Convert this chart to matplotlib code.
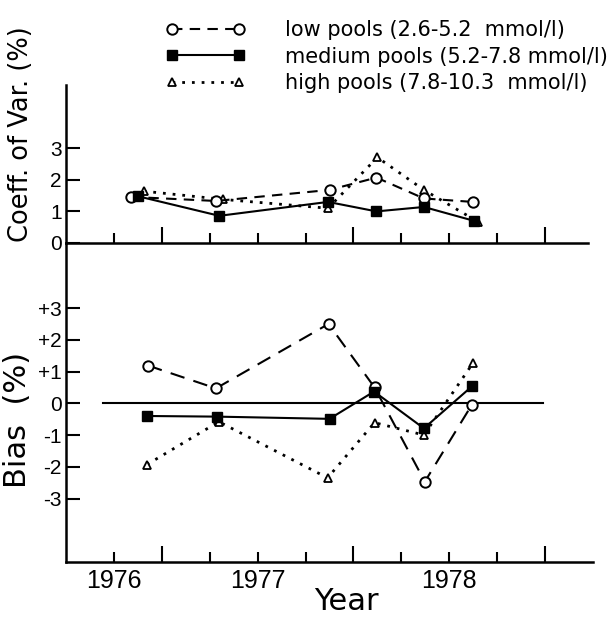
import matplotlib
matplotlib.use("Agg")
import matplotlib.pyplot as plt

# x positions are in quarter-year tick units (tick 0 .. 9 along the time axis)
year_labels = ["1976", "1977", "1978"]
year_pos = [0, 3, 7]

cv_low_x = [0.35, 2.13, 4.50, 5.48, 6.47, 7.49]
cv_low = [1.46, 1.33, 1.68, 2.07, 1.41, 1.30]
cv_med_x = [0.50, 2.20, 4.47, 5.48, 6.47, 7.52]
cv_med = [1.48, 0.86, 1.30, 1.00, 1.14, 0.70]
cv_high_x = [0.62, 2.28, 4.47, 5.50, 6.47, 7.60]
cv_high = [1.64, 1.38, 1.10, 2.71, 1.68, 0.67]

bias_low_x = [0.71, 2.13, 4.48, 5.44, 6.49, 7.47]
bias_low = [1.19, 0.47, 2.50, 0.50, -2.47, -0.05]
bias_med_x = [0.69, 2.15, 4.50, 5.43, 6.47, 7.47]
bias_med = [-0.40, -0.42, -0.49, 0.37, -0.79, 0.53]
bias_high_x = [0.69, 2.19, 4.46, 5.44, 6.47, 7.50]
bias_high = [-1.93, -0.58, -2.35, -0.61, -1.00, 1.28]

labels = ["low pools (2.6-5.2  mmol/l)",
          "medium pools (5.2-7.8 mmol/l)",
          "high pools (7.8-10.3  mmol/l)"]

narrow = ["Liberation Sans Narrow", "Liberation Sans", "DejaVu Sans"]
W, H = 615, 617

fig = plt.figure(figsize=(W / 100, H / 100), dpi=100)
ax1 = fig.add_axes([66 / W, 1 - 243 / H, 527 / W, (243 - 85) / H])
ax2 = fig.add_axes([66 / W, 1 - 562 / H, 527 / W, (562 - 243) / H])

low_style = dict(color="black", ls=(0, (5, 3.5)), lw=1.5, marker="o", ms=7.5,
                 mfc="white", mec="black", mew=1.4)
med_style = dict(color="black", ls="-", lw=1.5, marker="s", ms=7.5,
                 mfc="black", mec="black")
high_style = dict(color="black", ls=(0, (1, 2.5)), lw=2, marker="^", ms=6,
                  mfc="white", mec="black", mew=1.3)

l1, = ax1.plot(cv_high_x, cv_high, **high_style)
l2, = ax1.plot(cv_low_x, cv_low, **low_style)
l3, = ax1.plot(cv_med_x, cv_med, **med_style)

bias_low_style = dict(low_style, ls=(0, (7, 4.5)))
ax2.axhline(0, xmin=0.07, xmax=0.905, color="black", lw=1.5)
ax2.plot(bias_high_x, bias_high, **high_style)
ax2.plot(bias_low_x, bias_low, **bias_low_style)
ax2.plot(bias_med_x, bias_med, **med_style)

for ax in (ax1, ax2):
    ax.set_xlim(-1, 10)
    ax.patch.set_visible(False)
    for s in ("top", "right"):
        ax.spines[s].set_visible(False)
    for s in ("left", "bottom"):
        ax.spines[s].set_linewidth(1.8)
    ax.set_xticks([1, 5, 9])
    ax.set_xticks([0, 2, 3, 4, 6, 7, 8], minor=True)
    ax.tick_params(axis="x", which="major", direction="in", length=11.5, width=1.5)
    ax.tick_params(axis="x", which="minor", direction="in", length=7, width=1.5)
    ax.tick_params(axis="y", direction="in", length=10, width=1.5, pad=3,
                   labelsize=15)

ax1.set_ylim(0, 5)
ax1.spines["bottom"].set_bounds(-1, 9.9)
ax1.spines["bottom"].set_zorder(3)
ax1.set_yticks([0, 1, 2, 3])
ax1.set_yticklabels(["0", "1", "2", "3"], family=narrow)
ax1.set_xticklabels([])
ax1.set_xticklabels([], minor=True)

ax2.set_ylim(-5.0, 5.05)
ax2.set_yticks([3, 2, 1, 0, -1, -2, -3])
ax2.set_yticklabels(["+3", "+2", "+1", "0", "-1", "-2", "-3"], family=narrow)
ax2.set_xticklabels([])
minor_labels = []
for t in [0, 2, 3, 4, 6, 7, 8]:
    minor_labels.append(year_labels[year_pos.index(t)] if t in year_pos else "")
ax2.set_xticklabels(minor_labels, minor=True, family=narrow, fontsize=18)
ax2.tick_params(axis="x", which="minor", pad=5)

fig.text(21 / W, 1 - 134 / H, "Coeff. of Var. (%)", rotation=90,
         ha="center", va="center", fontsize=18.5, family="DejaVu Sans")
fig.text(18 / W, 1 - 420 / H, "Bias  (%)", rotation=90,
         ha="center", va="center", fontsize=22, family="DejaVu Sans")
fig.text(346 / W, 1 - 587 / H, "Year", ha="center", va="top",
         fontsize=22, family="DejaVu Sans")

fig.legend([l2, l3, l1], labels, loc="upper left",
           bbox_to_anchor=(166 / W, 1 - 20 / H), frameon=False,
           fontsize=15, handlelength=3.8, handletextpad=1.9,
           labelspacing=0.32, borderpad=0, borderaxespad=0, numpoints=2)

fig.savefig("out.png", dpi=100)
